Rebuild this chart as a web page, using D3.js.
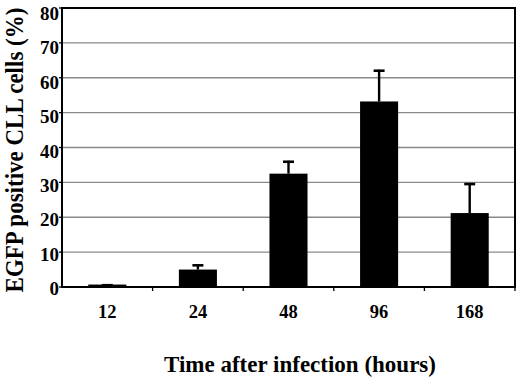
<!DOCTYPE html>
<html><head><meta charset="utf-8">
<script src="https://cdn.jsdelivr.net/npm/d3@7"></script>
<style>body{margin:0;background:#fff}svg{display:block}text{font-family:"Liberation Serif","Times New Roman",serif;font-weight:bold;fill:#000}</style>
</head><body><svg id="c" width="520" height="378"></svg>
<script>
const categories = ["12", "24", "48", "96", "168"];
const values = [0.7, 5.0, 32.5, 53.2, 21.2];
const errors = [0.1, 1.5, 3.7, 9.1, 8.6];
const yTicks = [0, 10, 20, 30, 40, 50, 60, 70, 80];
const xTitle = "Time after infection (hours)";
const yTitle = "EGFP positive CLL cells (%)";

const svg = d3.select("#c");
const L = 62, R = 515, T = 8, B = 287;
const x = d3.scaleBand().domain(categories).range([L, R]).paddingInner(0.58).paddingOuter(0.29);
const xb = d3.scaleBand().domain(categories).range([L, R]);
const y = d3.scaleLinear().domain([0, 80]).range([B, T]);

// gridlines
svg.append("g").selectAll("line").data(yTicks.filter(d => d > 0 && d < 80)).join("line")
  .attr("x1", L).attr("x2", R).attr("y1", d => y(d)).attr("y2", d => y(d))
  .attr("stroke", "#8a8a8a").attr("stroke-width", 1.4);

// bars
svg.append("g").selectAll("rect").data(categories).join("rect")
  .attr("x", d => x(d)).attr("width", x.bandwidth())
  .attr("y", (d, i) => y(values[i])).attr("height", (d, i) => B - y(values[i]))
  .attr("fill", "#000");

// error bars
const eg = svg.append("g").attr("stroke", "#000");
categories.forEach((c, i) => {
  const cx = x(c) + x.bandwidth() / 2;
  const top = y(values[i] + errors[i]);
  eg.append("line").attr("x1", cx).attr("x2", cx).attr("y1", y(values[i])).attr("y2", top).attr("stroke-width", 2.4);
  eg.append("line").attr("x1", cx - 5.5).attr("x2", cx + 5.5).attr("y1", top + 1).attr("y2", top + 1).attr("stroke-width", 2.6);
});

// frame
svg.append("rect").attr("x", L).attr("y", T).attr("width", R - L).attr("height", B - T)
  .attr("fill", "none").attr("stroke", "#000").attr("stroke-width", 2);

// x ticks at boundaries
const bounds = categories.slice(1).map(c => xb(c)).concat([R]);
svg.append("g").selectAll("line").data(bounds).join("line")
  .attr("x1", d => d).attr("x2", d => d).attr("y1", B).attr("y2", B + 4)
  .attr("stroke", "#000").attr("stroke-width", 1.3);

// y ticks
svg.append("g").selectAll("line").data(yTicks).join("line")
  .attr("x1", L - 3).attr("x2", L).attr("y1", d => y(d)).attr("y2", d => y(d))
  .attr("stroke", "#000").attr("stroke-width", 1.3);

// y tick labels
svg.append("g").selectAll("text").data(yTicks).join("text")
  .attr("x", 59).attr("y", d => y(d) + 8 + d * 0.05)
  .attr("text-anchor", "end").attr("font-size", 19).text(d => d);

// x tick labels
svg.append("g").selectAll("text").data(categories).join("text")
  .attr("x", d => xb(d) + xb.bandwidth() / 2).attr("y", 318)
  .attr("text-anchor", "middle").attr("font-size", 18.5).text(d => d);

// titles
svg.append("text").attr("x", 300).attr("y", 372).attr("text-anchor", "middle")
  .attr("font-size", 23).text(xTitle);
svg.append("text").attr("transform", "translate(23,150) rotate(-90) scale(1,1.12)").attr("text-anchor", "middle")
  .attr("font-size", 23).text(yTitle);
</script></body></html>
